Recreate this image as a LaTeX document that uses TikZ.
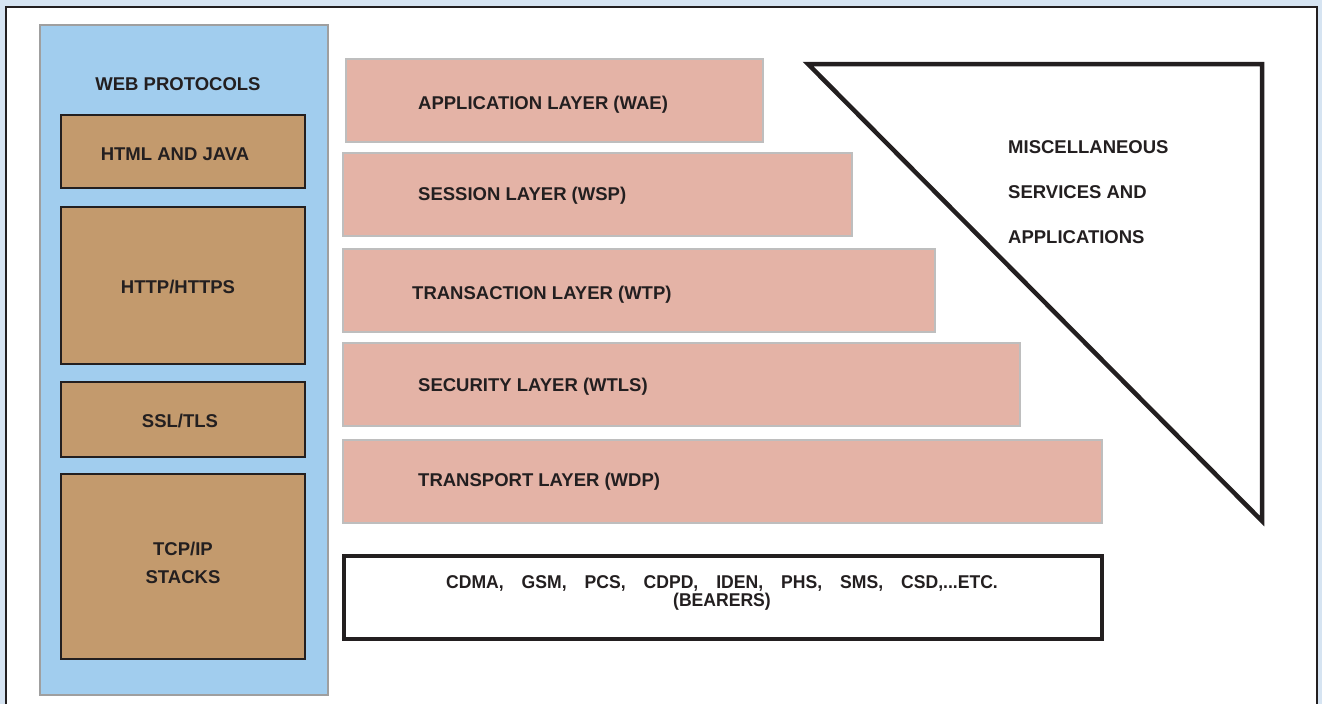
\documentclass[tikz,border=0pt]{standalone}
\usepackage{fontspec}
\setmainfont{Liberation Sans}
\newfontfamily\narrowfont[FakeStretch=0.95]{Liberation Sans}
\usepackage{xcolor}
\usepackage{tikz}
\usetikzlibrary{shapes,arrows,positioning}
\definecolor{frameBlue}{HTML}{D6E4F2}
\definecolor{webBlue}{HTML}{A1CDEE}
\definecolor{protoBrown}{HTML}{C39A6D}
\definecolor{layerPink}{HTML}{E4B3A6}
\definecolor{inkDark}{HTML}{231F20}
\definecolor{edgeGray}{HTML}{BEBEBE}
\tikzset{every node/.style={font=\bfseries\fontsize{18.5}{22}\selectfont, text=inkDark}}
\tikzset{web-panel/.style={draw=gray!75, line width=1.5pt, fill=webBlue, anchor=north west, inner sep=0}}
\tikzset{proto-box/.style={draw=inkDark, line width=2pt, fill=protoBrown, anchor=north west, inner sep=0, minimum width=244pt}}
\tikzset{layer-box/.style={draw=edgeGray, line width=1.5pt, fill=layerPink, anchor=north west, inner sep=0, minimum height=83pt}}
\tikzset{layer-label/.style={inner sep=0}}
\tikzset{bearer-box/.style={draw=inkDark, line width=4pt, fill=white, anchor=north west, inner sep=0}}
\tikzset{misc-line/.style={draw=inkDark, line width=4.5pt}}
\newcommand{\gap}{\hspace{18pt}}
\newcommand{\waplayer}[7] {
    \node[layer-box, minimum width=#4] (#1) at (#2,#3) {};
    \node[layer-label, right=#5 of #1.west, yshift=#6] (#1-label) {#7};
}

\begin{document}
\begin{tikzpicture}[x=1pt, y=-1pt]
    % frame
    \path[use as bounding box, fill=frameBlue] (0,0) rectangle (1322,704);
    \fill[white] (6,7) rectangle (1317,704);
    \draw[inkDark, line width=1.2pt] (6,704) -- (6,7) -- (1317,7) -- (1317,704);

    % web protocol stack
    \node[web-panel, minimum width=288pt, minimum height=670pt] (web) at (39,24) {};
    \node[inner sep=0] (web-label) at (178,84) {WEB PROTOCOLS};
    \node[proto-box, minimum height=73pt] (html) at (60,114) {};
    \node[inner sep=0] (html-label) at (175,154) {HTML AND JAVA};
    \node[proto-box, minimum height=157pt] (http) at (60,206) {};
    \node[inner sep=0] (http-label) at (178,287) {HTTP/HTTPS};
    \node[proto-box, minimum height=75pt] (ssl) at (60,381) {};
    \node[inner sep=0] (ssl-label) at (180,421) {SSL/TLS};
    \node[proto-box, minimum height=185pt] (tcp) at (60,473) {};
    \node[inner sep=0, align=center, font=\bfseries\fontsize{18.5}{28}\selectfont,
          yshift=3.5pt] (tcp-label) at (tcp.center) {TCP/IP\\STACKS};

    % wap layers
    \waplayer{app}{345}{58}{417pt}{73pt}{-4.5pt}{APPLICATION LAYER (WAE)}
    \waplayer{session}{342}{152}{509pt}{76pt}{-1pt}{SESSION LAYER (WSP)}
    \waplayer{transaction}{342}{248}{592pt}{70pt}{-4pt}{TRANSACTION LAYER (WTP)}
    \waplayer{security}{342}{342}{677pt}{76pt}{-2pt}{SECURITY LAYER (WTLS)}
    \waplayer{transport}{342}{439}{759pt}{76pt}{0pt}{TRANSPORT LAYER (WDP)}

    % bearers
    \node[bearer-box, minimum width=758pt, minimum height=83pt] (bearers) at (342,554) {};
    \node[inner sep=0, align=center, font=\narrowfont\bfseries\fontsize{18.5}{15}\selectfont]
        (bearers-label) at (722,593) {CDMA,\gap GSM,\gap PCS,\gap CDPD,\gap IDEN,\gap PHS,\gap SMS,\gap CSD,...ETC.\\(BEARERS)};

    % misc services
    \coordinate (misc-a) at (808,64);
    \coordinate (misc-b) at (1262,64);
    \coordinate (misc-c) at (1262,521);
    \draw[misc-line] (misc-a) -- (misc-b) -- (misc-c) -- cycle;
    \node[inner sep=0, anchor=north west, align=left, font=\bfseries\fontsize{18.5}{45}\selectfont]
        (misc-label) at (1008,140.5) {MISCELLANEOUS\\SERVICES AND\\APPLICATIONS};
\end{tikzpicture}
\end{document}
